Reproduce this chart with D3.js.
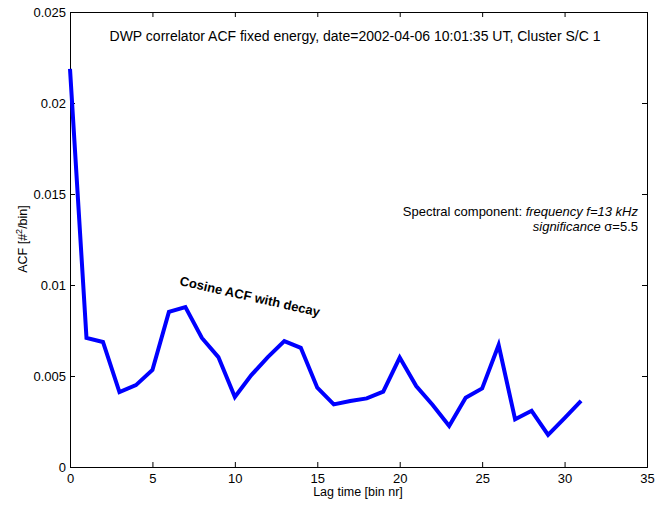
<!DOCTYPE html>
<html>
<head>
<meta charset="utf-8">
<script src="https://cdn.jsdelivr.net/npm/d3@7"></script>
<style>
  body { margin: 0; background: #fff; }
  text { font-family: "Liberation Sans", Arial, sans-serif; fill: #000; }
</style>
</head>
<body>
<div class="chart-container"></div>
<script>
//! DATA
const lagBins = d3.range(0, 32);
const acfValues = [
  0.02187, 0.00709, 0.00687, 0.00412, 0.00450, 0.00533, 0.00852, 0.00879,
  0.00709, 0.00604, 0.00385, 0.00505, 0.00604, 0.00692, 0.00655, 0.00436,
  0.00344, 0.00363, 0.00377, 0.00414, 0.00601, 0.00445, 0.00341, 0.00225,
  0.00381, 0.00432, 0.00670, 0.00262, 0.00309, 0.00176, 0.00269, 0.00363
];
const xTicks = [0, 5, 10, 15, 20, 25, 30, 35];
const yTicks = [0, 0.005, 0.01, 0.015, 0.02, 0.025];
const yTickLabels = ['0', '0.005', '0.01', '0.015', '0.02', '0.025'];

//! CONSTS
const WIDTH = 667, HEIGHT = 506;
const M = { left: 70, right: 20, top: 12, bottom: 39 };

const svg = d3.select('.chart-container')
  .append('svg')
  .attr('width', WIDTH)
  .attr('height', HEIGHT);

const x = d3.scaleLinear().domain([0, 35]).range([M.left, WIDTH - M.right]);
const y = d3.scaleLinear().domain([0, 0.025]).range([HEIGHT - M.bottom, M.top]);

// axes (matlab style: ticks inside, mirrored on top/right)
const TL = 5;
svg.append('g')
  .attr('transform', `translate(0,${y(0)})`)
  .call(d3.axisBottom(x).tickValues(xTicks).tickSize(-TL).tickPadding(7))
  .call(g => g.select('.domain').attr('stroke', '#000'));
svg.append('g')
  .attr('transform', `translate(0,${y(0.025)})`)
  .call(d3.axisTop(x).tickValues(xTicks).tickSize(-TL).tickFormat(''))
  .call(g => g.select('.domain').attr('stroke', '#000'));
svg.append('g')
  .attr('transform', `translate(${x(0)},0)`)
  .call(d3.axisLeft(y).tickValues(yTicks).tickSize(-TL).tickPadding(4)
    .tickFormat((d, i) => yTickLabels[i]))
  .call(g => g.select('.domain').attr('stroke', '#000'));
svg.append('g')
  .attr('transform', `translate(${x(35)},0)`)
  .call(d3.axisRight(y).tickValues(yTicks).tickSize(-TL).tickFormat(''))
  .call(g => g.select('.domain').attr('stroke', '#000'));

svg.selectAll('.tick text')
  .style('font-size', '13px')
  .style('font-family', '"Liberation Sans", Arial, sans-serif')
  .attr('fill', '#000');
svg.selectAll('.tick line').attr('stroke', '#000');

// ACF line
const line = d3.line()
  .x((d, i) => x(lagBins[i]))
  .y(d => y(d));

svg.append('path')
  .datum(acfValues)
  .attr('fill', 'none')
  .attr('stroke', '#0000ff')
  .attr('stroke-width', 4)
  .attr('stroke-linejoin', 'miter')
  .attr('d', line);

// title & labels
svg.append('text')
  .attr('x', 355).attr('y', 41)
  .attr('text-anchor', 'middle')
  .style('font-size', '14px')
  .text('DWP correlator ACF fixed energy, date=2002-04-06 10:01:35 UT, Cluster S/C 1');

svg.append('text')
  .attr('x', 358).attr('y', 496)
  .attr('text-anchor', 'middle')
  .style('font-size', '12.5px')
  .text('Lag time [bin nr]');

const yl = svg.append('text')
  .attr('transform', 'translate(27,239) rotate(-90)')
  .attr('text-anchor', 'middle')
  .style('font-size', '12.5px');
yl.append('tspan').text('ACF [#');
yl.append('tspan').attr('dy', -5).style('font-size', '9px').text('2');
yl.append('tspan').attr('dy', 5).text('/bin]');

// annotations
const a1 = svg.append('text')
  .attr('x', 638).attr('y', 216)
  .attr('text-anchor', 'end')
  .style('font-size', '13px');
a1.append('tspan').text('Spectral component: ');
a1.append('tspan').style('font-style', 'italic').text('frequency f=13 kHz');

const a2 = svg.append('text')
  .attr('x', 638).attr('y', 231)
  .attr('text-anchor', 'end')
  .style('font-size', '13px');
a2.append('tspan').style('font-style', 'italic').text('significance ');
a2.append('tspan').text('σ=5.5');

svg.append('text')
  .attr('transform', 'translate(179,285) rotate(12.7)')
  .style('font-size', '13px')
  .style('font-weight', 'bold')
  .text('Cosine ACF with decay');
</script>
</body>
</html>
